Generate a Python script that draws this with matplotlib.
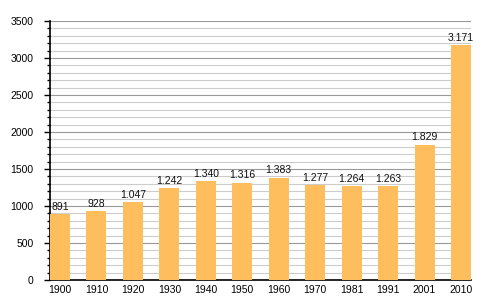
import matplotlib.pyplot as plt
from matplotlib.ticker import MultipleLocator

plt.rcParams['font.family'] = ['Liberation Sans', 'DejaVu Sans']

years = ["1900", "1910", "1920", "1930", "1940", "1950",
         "1960", "1970", "1981", "1991", "2001", "2010"]
population = [891, 928, 1047, 1242, 1340, 1316, 1383, 1277, 1264, 1263, 1829, 3171]
labels = ["891", "928", "1.047", "1.242", "1.340", "1.316",
          "1.383", "1.277", "1.264", "1.263", "1.829", "3.171"]

fig = plt.figure(figsize=(5, 3), dpi=100)
ax = fig.add_axes([0.1, 0.067, 0.842, 0.863])

x = range(len(years))
bw = 0.55
ax.bar(x, population, width=bw, color='#ffbe5e', zorder=3)

for i, (v, lab) in enumerate(zip(population, labels)):
    ax.text(i, v + 30, lab, ha='center', va='bottom', fontsize=7.5, color='#111111', zorder=4)

ax.set_xlim(-bw / 2, len(years) - 1 + bw / 2)
ax.set_ylim(0, 3500)
ax.set_xticks(list(x))
ax.set_xticklabels(years)
ax.yaxis.set_major_locator(MultipleLocator(500))
ax.yaxis.set_minor_locator(MultipleLocator(100))

ax.grid(which='major', axis='y', color='#999999', linewidth=0.8, zorder=0)
ax.grid(which='minor', axis='y', color='#cccccc', linewidth=0.8, zorder=0)

for s in ['top', 'right']:
    ax.spines[s].set_visible(False)
ax.spines['left'].set_linewidth(1.2)
ax.spines['bottom'].set_linewidth(1.2)

ax.tick_params(axis='y', which='major', length=4, width=1, labelsize=7.5, pad=8)
ax.tick_params(axis='y', which='minor', length=2.5, width=1)
ax.tick_params(axis='x', length=0, labelsize=7.5, pad=4)

fig.savefig('out.png', dpi=100)
